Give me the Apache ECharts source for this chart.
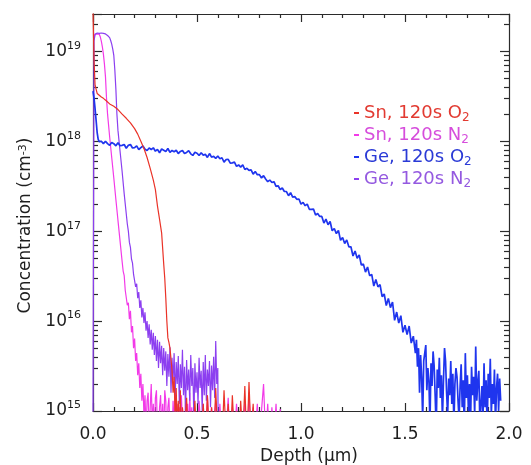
<!DOCTYPE html>
<html>
<head>
<meta charset="utf-8">
<script src="https://cdn.jsdelivr.net/npm/echarts@6/dist/echarts.min.js"></script>
<style>
  html, body { margin: 0; padding: 0; background: #fff; }
  #chart { width: 531px; height: 465px; }
</style>
</head>
<body>
<div id="chart"></div>
<script>
// SIMS depth profiles: [depth (µm), concentration (cm^-3)]
const seriesNames = ['Sn, 120s O2', 'Sn, 120s N2', 'Ge, 120s O2', 'Ge, 120s N2'];
const seriesColors = ['#ea3328', '#f23ae8', '#1f35ee', '#8c3ff0'];
const legendColors = ['#e23a31', '#d64ddc', '#2a3ad6', '#9459e0'];

const xTickLabels = ['0.0', '0.5', '1.0', '1.5', '2.0'];
const yDecades = [15, 16, 17, 18, 19];
const yMinorMantissas = [2, 3, 4, 5, 6, 7, 8, 9];
const depthMin = 0, depthMax = 2, depthStep = 0.5;
const concMin = 1e15, concMax = 2.6e19;

const snO2 = [
  [0, 2.8e19], [0.005, 7.9e18], [0.01, 4.2e18], [0.02, 3.4e18], [0.03, 3.25e18], [0.04, 3.1e18],
  [0.05, 3.0e18], [0.065, 2.8e18], [0.08, 2.6e18], [0.10, 2.45e18], [0.12, 2.25e18], [0.14, 2.0e18],
  [0.16, 1.8e18], [0.18, 1.6e18], [0.20, 1.38e18], [0.215, 1.2e18], [0.23, 1.0e18], [0.245, 8.3e17],
  [0.26, 6.6e17], [0.275, 5.0e17], [0.29, 3.7e17], [0.30, 2.9e17], [0.31, 1.9e17], [0.32, 1.35e17],
  [0.33, 9.5e16], [0.34, 4.3e16], [0.345, 3.0e16], [0.35, 1.8e16], [0.355, 1.0e16], [0.36, 6.5e15],
  [0.365, 5.8e15], [0.37, 5.0e15], [0.375, 3.8e15], [0.38, 2.8e15], [0.385, 1.6e15], [0.39, 2.4e15],
  [0.395, 8e14], [0.40, 1.8e15], [0.405, 6e14], [0.41, 1.3e15], [0.415, 5e14], [0.42, 1.7e15],
  [0.425, 4e14], [0.43, 1.1e15], [0.44, 6e14], [0.45, 1.4e15], [0.46, 4e14], [0.47, 1.0e15],
  [0.48, 5e14], [0.49, 1.3e15], [0.50, 4e14], [0.51, 1.0e15], [0.52, 5e14], [0.53, 1.2e15],
  [0.54, 4e14], [0.55, 1.5e15], [0.56, 5e14], [0.57, 1.1e15], [0.58, 4e14], [0.59, 1.8e15],
  [0.60, 5e14], [0.61, 1.0e15], [0.62, 4e14], [0.63, 1.7e15], [0.64, 5e14], [0.65, 1.2e15],
  [0.66, 4e14], [0.67, 1.5e15], [0.68, 5e14], [0.69, 1.0e15], [0.70, 4e14], [0.71, 1.3e15],
  [0.72, 5e14], [0.73, 1.9e15], [0.74, 4e14], [0.75, 2.1e15], [0.76, 5e14], [0.77, 1.2e15], [0.78, 4e14]
];

const snN2 = [
  [0.005, 1.4e19], [0.01, 1.55e19], [0.02, 1.56e19], [0.03, 1.55e19], [0.035, 1.45e19], [0.04, 1.3e19],
  [0.045, 1.12e19], [0.05, 9.3e18], [0.055, 7.2e18], [0.06, 5.2e18], [0.065, 3.0e18], [0.07, 2.0e18],
  [0.08, 1.12e18], [0.09, 6.6e17], [0.10, 3.9e17], [0.11, 2.25e17], [0.12, 1.32e17], [0.13, 7.8e16],
  [0.14, 4.6e16], [0.145, 3.6e16], [0.15, 3.2e16], [0.155, 2.2e16], [0.16, 2.3e16], [0.165, 1.5e16],
  [0.17, 1.6e16], [0.175, 1.05e16], [0.18, 1.3e16], [0.185, 7.5e15], [0.19, 8.8e15], [0.195, 5.0e15],
  [0.20, 6.4e15], [0.205, 3.6e15], [0.21, 4.4e15], [0.215, 2.5e15], [0.22, 3.4e15], [0.225, 1.8e15],
  [0.23, 2.6e15], [0.235, 1.3e15], [0.24, 2.0e15], [0.245, 9e14], [0.25, 1.5e15], [0.255, 6e14],
  [0.26, 1.3e15], [0.265, 1.6e15], [0.27, 5e14], [0.275, 1.1e15], [0.28, 2.0e15], [0.285, 7e14],
  [0.29, 1.2e15], [0.295, 5e14], [0.30, 1.4e15], [0.305, 1.7e15], [0.31, 6e14], [0.315, 5e14],
  [0.32, 1.1e15], [0.325, 1.5e15], [0.33, 6e14], [0.335, 1.2e15], [0.34, 5e14], [0.345, 1.7e15],
  [0.35, 1.3e15], [0.355, 4e14], [0.36, 1.1e15], [0.365, 1.4e15], [0.37, 6e14], [0.375, 1.0e15],
  [0.38, 5e14], [0.385, 1.3e15], [0.39, 7e14], [0.395, 1.6e15], [0.40, 4e14], [0.405, 1.2e15],
  [0.41, 6e14], [0.415, 1.1e15], [0.42, 5e14], [0.425, 1.5e15], [0.43, 7e14], [0.435, 1.0e15],
  [0.44, 4e14], [0.445, 1.3e15], [0.45, 6e14], [0.455, 1.2e15], [0.46, 5e14], [0.465, 1.6e15],
  [0.47, 7e14], [0.475, 1.1e15], [0.48, 4e14], [0.485, 1.4e15], [0.49, 6e14], [0.495, 1.0e15],
  [0.50, 5e14], [0.51, 1.3e15], [0.52, 6e14], [0.53, 1.2e15], [0.54, 4e14], [0.55, 1.5e15],
  [0.56, 5e14], [0.57, 1.1e15], [0.58, 6e14], [0.59, 1.3e15], [0.60, 4e14], [0.61, 1.2e15],
  [0.62, 5e14], [0.63, 1.0e15], [0.64, 6e14], [0.65, 1.4e15], [0.66, 4e14], [0.67, 1.1e15],
  [0.68, 5e14], [0.69, 1.2e15], [0.70, 6e14], [0.71, 1.0e15], [0.72, 5e14], [0.73, 1.3e15],
  [0.74, 4e14], [0.75, 1.6e15], [0.76, 5e14], [0.77, 1.1e15], [0.78, 6e14], [0.79, 1.2e15],
  [0.80, 4e14], [0.81, 1.0e15], [0.82, 2.0e15], [0.83, 5e14], [0.84, 1.2e15], [0.85, 4e14],
  [0.86, 1.1e15], [0.87, 5e14], [0.88, 1.2e15], [0.89, 4e14], [0.90, 1.05e15], [0.91, 5e14]
];

const geO2 = [
  [0, 3.6e18], [0.005, 3.0e18], [0.01, 2.3e18], [0.015, 1.7e18], [0.02, 1.25e18], [0.025, 1.05e18],
  [0.03, 9.9e17], [0.04, 1.0e18], [0.05, 9.4e17], [0.06, 1.0e18], [0.07, 9.4e17], [0.08, 9.0e17],
  [0.09, 9.7e17], [0.10, 9.4e17], [0.11, 8.9e17], [0.12, 9.6e17], [0.13, 8.9e17], [0.14, 9.0e17],
  [0.15, 9.2e17], [0.16, 8.35e17], [0.17, 9.0e17], [0.18, 9.2e17], [0.19, 8.4e17], [0.20, 8.5e17],
  [0.21, 8.9e17], [0.22, 8.05e17], [0.23, 8.5e17], [0.24, 8.85e17], [0.25, 8.15e17], [0.26, 7.9e17],
  [0.27, 8.4e17], [0.28, 8.1e17], [0.29, 8.45e17], [0.30, 7.75e17], [0.31, 8.1e17], [0.32, 7.45e17],
  [0.33, 8.2e17], [0.34, 7.95e17], [0.35, 7.7e17], [0.36, 8.3e17], [0.37, 7.5e17], [0.38, 7.9e17],
  [0.39, 7.65e17], [0.40, 7.95e17], [0.41, 7.3e17], [0.42, 7.7e17], [0.43, 7.9e17], [0.44, 7.3e17],
  [0.45, 7.5e17], [0.46, 7.85e17], [0.47, 7.25e17], [0.48, 6.95e17], [0.49, 7.55e17], [0.50, 7.35e17],
  [0.51, 6.95e17], [0.52, 7.45e17], [0.53, 7.0e17], [0.54, 7.15e17], [0.55, 6.6e17], [0.56, 7.3e17],
  [0.57, 6.65e17], [0.58, 6.8e17], [0.59, 6.45e17], [0.60, 6.85e17], [0.61, 6.4e17], [0.62, 6.55e17],
  [0.63, 5.85e17], [0.64, 6.25e17], [0.65, 6.3e17], [0.66, 5.7e17], [0.67, 5.75e17], [0.68, 5.85e17],
  [0.69, 5.25e17], [0.70, 5.45e17], [0.71, 5.15e17], [0.72, 5.45e17], [0.73, 4.85e17], [0.74, 5.0e17],
  [0.75, 4.75e17], [0.76, 4.8e17], [0.77, 4.3e17], [0.78, 4.6e17], [0.79, 4.25e17], [0.80, 4.25e17],
  [0.81, 3.9e17], [0.82, 4.15e17], [0.83, 3.8e17], [0.84, 3.55e17], [0.85, 3.7e17], [0.86, 3.48e17],
  [0.87, 3.55e17], [0.88, 3.15e17], [0.89, 3.2e17], [0.90, 2.9e17], [0.91, 3.02e17], [0.92, 2.76e17],
  [0.93, 2.76e17], [0.94, 2.48e17], [0.95, 2.68e17], [0.96, 2.39e17], [0.97, 2.42e17], [0.98, 2.26e17],
  [0.99, 2.28e17], [1.00, 2.0e17], [1.01, 2.09e17], [1.02, 1.92e17], [1.03, 2.0e17], [1.04, 1.75e17],
  [1.05, 1.75e17], [1.06, 1.76e17], [1.07, 1.51e17], [1.08, 1.57e17], [1.09, 1.46e17], [1.10, 1.46e17],
  [1.11, 1.23e17], [1.12, 1.36e17], [1.13, 1.18e17], [1.14, 1.28e17], [1.15, 1.01e17], [1.16, 1.07e17],
  [1.17, 9.4e16], [1.18, 1.02e17], [1.19, 7.9e16], [1.20, 8.5e16], [1.21, 7.3e16], [1.22, 8.0e16],
  [1.23, 6.7e16], [1.24, 6.7e16], [1.25, 5.3e16], [1.26, 6.0e16], [1.27, 5.0e16], [1.28, 5.45e16],
  [1.29, 4.2e16], [1.30, 4.3e16], [1.31, 3.5e16], [1.32, 4.0e16], [1.33, 3.2e16], [1.34, 3.3e16],
  [1.35, 2.45e16], [1.36, 2.9e16], [1.37, 2.4e16], [1.38, 2.55e16], [1.39, 1.87e16], [1.40, 2.0e16],
  [1.41, 1.49e16], [1.42, 1.78e16], [1.43, 1.41e16], [1.44, 1.63e16], [1.45, 1.02e16], [1.46, 1.26e16],
  [1.47, 9.5e15], [1.48, 1.15e16], [1.49, 7.5e15], [1.50, 9.0e15], [1.51, 7.1e15], [1.52, 8.8e15],
  [1.53, 5.7e15], [1.54, 6.8e15], [1.55, 4.4e15], [1.555, 6.2e15], [1.56, 3.1e15], [1.565, 5.0e15],
  [1.57, 1.6e15], [1.575, 4.2e15], [1.58, 2.4e15], [1.585, 8e14], [1.59, 3.6e15], [1.595, 4.4e15],
  [1.60, 5.4e15], [1.605, 1.7e15], [1.61, 3.0e15], [1.615, 2.2e15], [1.62, 7e14], [1.625, 3.4e15],
  [1.63, 1.9e15], [1.635, 4.6e15], [1.64, 3.2e15], [1.645, 1.5e15], [1.65, 6e14], [1.655, 2.9e15],
  [1.66, 1.8e15], [1.665, 3.9e15], [1.67, 1.4e15], [1.675, 2.5e15], [1.68, 8e14], [1.685, 2.2e15],
  [1.69, 5.0e15], [1.695, 3.6e15], [1.70, 1.6e15], [1.705, 9e14], [1.71, 2.3e15], [1.715, 1.5e15],
  [1.72, 3.6e15], [1.725, 1.2e15], [1.73, 2.6e15], [1.735, 7e14], [1.74, 2.0e15], [1.745, 3.0e15],
  [1.75, 2.4e15], [1.755, 1.3e15], [1.76, 8e14], [1.765, 1.9e15], [1.77, 3.3e15], [1.775, 1.1e15],
  [1.78, 2.2e15], [1.785, 6e14], [1.79, 4.4e15], [1.795, 1.4e15], [1.80, 2.5e15], [1.805, 1.0e15],
  [1.81, 2.0e15], [1.815, 7e14], [1.82, 3.1e15], [1.825, 1.5e15], [1.83, 2.4e15], [1.835, 9e14],
  [1.84, 5.2e15], [1.845, 1.3e15], [1.85, 2.1e15], [1.855, 2.8e15], [1.86, 7e14], [1.865, 1.2e15],
  [1.87, 1.9e15], [1.875, 8e14], [1.88, 3.4e15], [1.885, 1.1e15], [1.89, 2.2e15], [1.895, 6e14],
  [1.90, 2.6e15], [1.905, 1.4e15], [1.91, 3.8e15], [1.915, 9e14], [1.92, 2.0e15], [1.925, 1.2e15],
  [1.93, 2.9e15], [1.935, 7e14], [1.94, 1.8e15], [1.945, 2.6e15], [1.95, 1.0e15], [1.955, 2.3e15],
  [1.96, 1.3e15]
];

const geN2 = [
  [0, 8e14], [0.005, 1.3e19], [0.01, 1.55e19], [0.02, 1.6e19], [0.03, 1.58e19], [0.04, 1.6e19],
  [0.05, 1.58e19], [0.06, 1.56e19], [0.07, 1.5e19], [0.08, 1.42e19], [0.085, 1.32e19], [0.09, 1.2e19],
  [0.095, 1.06e19], [0.10, 9.0e18], [0.105, 6.2e18], [0.11, 3.8e18], [0.115, 2.0e18], [0.12, 1.32e18],
  [0.13, 7.8e17], [0.14, 4.6e17], [0.15, 2.6e17], [0.16, 1.55e17], [0.165, 1.2e17], [0.17, 1.0e17],
  [0.175, 7.5e16], [0.18, 6.6e16], [0.185, 4.9e16], [0.19, 4.4e16], [0.195, 3.3e16], [0.20, 3.4e16],
  [0.205, 2.4e16], [0.21, 2.6e16], [0.215, 1.8e16], [0.22, 2.1e16], [0.225, 1.4e16], [0.23, 1.7e16],
  [0.235, 1.1e16], [0.24, 1.4e16], [0.245, 9.5e15], [0.25, 1.25e16], [0.255, 7.8e15], [0.26, 1.0e16],
  [0.265, 6.5e15], [0.27, 9.2e15], [0.275, 5.5e15], [0.28, 8.0e15], [0.285, 4.8e15], [0.29, 7.4e15],
  [0.295, 4.2e15], [0.30, 6.8e15], [0.305, 3.6e15], [0.31, 6.2e15], [0.315, 3.0e15], [0.32, 5.9e15],
  [0.325, 3.4e15], [0.33, 5.3e15], [0.335, 2.5e15], [0.34, 5.0e15], [0.345, 2.8e15], [0.35, 4.6e15],
  [0.355, 1.9e15], [0.36, 4.3e15], [0.365, 2.4e15], [0.37, 5.1e15], [0.375, 1.6e15], [0.38, 3.9e15],
  [0.385, 2.2e15], [0.39, 4.4e15], [0.395, 1.4e15], [0.40, 3.5e15], [0.405, 2.0e15], [0.41, 4.1e15],
  [0.415, 1.2e15], [0.42, 3.3e15], [0.425, 1.8e15], [0.43, 4.8e15], [0.435, 1.5e15], [0.44, 3.1e15],
  [0.445, 9e14], [0.45, 3.7e15], [0.455, 1.7e15], [0.46, 2.9e15], [0.465, 1.3e15], [0.47, 4.2e15],
  [0.475, 1.9e15], [0.48, 3.0e15], [0.485, 8e14], [0.49, 3.4e15], [0.495, 1.6e15], [0.50, 2.7e15],
  [0.505, 1.2e15], [0.51, 3.9e15], [0.515, 1.8e15], [0.52, 2.8e15], [0.525, 1.0e15], [0.53, 3.5e15],
  [0.535, 1.5e15], [0.54, 4.2e15], [0.545, 1.3e15], [0.55, 2.9e15], [0.555, 1.9e15], [0.56, 3.6e15],
  [0.565, 1.1e15], [0.57, 3.2e15], [0.575, 1.7e15], [0.58, 4.0e15], [0.585, 1.4e15], [0.59, 6.0e15],
  [0.595, 2.0e15], [0.60, 3.0e15], [0.602, 5e14]
];

const FONT = 'DejaVu Sans';
const AXIS_COLOR = '#2b2b2b';
const TEXT_COLOR = '#1e1e1e';

// minor ticks of the log axis (2..9 within each decade)
const minorTickValues = [];
yDecades.forEach(function (e) {
  yMinorMantissas.forEach(function (m) {
    const v = m * Math.pow(10, e);
    if (v < concMax) minorTickValues.push([0, v]);
  });
});

function powerLabel(v) {
  const e = Math.round(Math.log10(v));
  if (Math.abs(Math.log10(v) - e) > 1e-6 || yDecades.indexOf(e) < 0) return '';
  return '{base|10}{sup|' + e + '}';
}

const chart = echarts.init(document.getElementById('chart'), null, { renderer: 'canvas' });

const dataBySeries = [snO2, snN2, geO2, geN2];
// drawing order: Sn N2, Ge N2, Ge O2, Sn O2
const drawOrder = [1, 3, 2, 0];

const option = {
  backgroundColor: '#ffffff',
  animation: false,
  textStyle: { fontFamily: FONT },
  grid: { left: 93, right: 22, top: 14, bottom: 54, outerBoundsMode: 'none' },
  legend: {
    show: true,
    orient: 'vertical',
    left: 349,
    top: 97,
    itemGap: 0,
    itemWidth: 5,
    itemHeight: 2,
    icon: 'rect',
    selectedMode: false,
    data: seriesNames.map(function (n, i) {
      return { name: n, textStyle: { color: legendColors[i] } };
    }),
    formatter: function (name) {
      return name.slice(0, -1) + '{sub|' + name.slice(-1) + '}';
    },
    textStyle: {
      fontFamily: FONT,
      fontSize: 18,
      lineHeight: 22,
      rich: {
        sub: { fontFamily: FONT, fontSize: 12, lineHeight: 12, verticalAlign: 'bottom' }
      }
    }
  },
  xAxis: [
    {
      type: 'value', position: 'bottom',
      min: depthMin, max: depthMax, interval: depthStep,
      name: 'Depth (μm)', nameLocation: 'middle', nameGap: 35,
      nameTextStyle: { fontFamily: FONT, fontSize: 17, color: TEXT_COLOR, padding: [0, 0, 0, 16] },
      axisLine: { show: true, onZero: false, lineStyle: { color: AXIS_COLOR, width: 1.2 } },
      axisTick: { show: true, inside: true, length: 8, lineStyle: { color: AXIS_COLOR, width: 1.2 } },
      minorTick: { show: true, splitNumber: 5, length: 4, lineStyle: { color: AXIS_COLOR, width: 1.2 } },
      splitLine: { show: false },
      axisLabel: {
        fontFamily: FONT, fontSize: 17, color: TEXT_COLOR, margin: 15,
        formatter: function (v) {
          const idx = Math.round((v - depthMin) / depthStep);
          return xTickLabels[idx] || '';
        }
      }
    },
    {
      type: 'value', position: 'top',
      min: depthMin, max: depthMax, interval: depthStep,
      axisLine: { show: true, onZero: false, lineStyle: { color: AXIS_COLOR, width: 1.2 } },
      axisTick: { show: true, inside: true, length: 8, lineStyle: { color: AXIS_COLOR, width: 1.2 } },
      minorTick: { show: true, splitNumber: 5, length: 4, lineStyle: { color: AXIS_COLOR, width: 1.2 } },
      splitLine: { show: false },
      axisLabel: { show: false }
    }
  ],
  yAxis: [
    {
      type: 'log', logBase: 10, position: 'left',
      min: concMin, max: concMax,
      name: 'Concentration (cm{sup|-3})', nameLocation: 'middle', nameGap: 57, nameRotate: 90,
      nameTextStyle: {
        fontFamily: FONT, fontSize: 17, color: TEXT_COLOR, padding: [0, 26, 0, 0],
        rich: { sup: { fontFamily: FONT, fontSize: 11, verticalAlign: 'top', lineHeight: 11 } }
      },
      axisLine: { show: true, onZero: false, lineStyle: { color: AXIS_COLOR, width: 1.2 } },
      axisTick: { show: true, inside: true, length: 9, lineStyle: { color: AXIS_COLOR, width: 1.2 } },
      splitLine: { show: false },
      axisLabel: {
        margin: 12, color: TEXT_COLOR, formatter: powerLabel,
        rich: {
          base: { fontFamily: FONT, fontSize: 17, lineHeight: 22, color: TEXT_COLOR },
          sup: { fontFamily: FONT, fontSize: 11, lineHeight: 11, verticalAlign: 'top', color: TEXT_COLOR }
        }
      }
    },
    {
      type: 'log', logBase: 10, position: 'right',
      min: concMin, max: concMax,
      axisLine: { show: true, onZero: false, lineStyle: { color: AXIS_COLOR, width: 1.2 } },
      axisTick: { show: true, inside: true, length: 9, lineStyle: { color: AXIS_COLOR, width: 1.2 } },
      splitLine: { show: false },
      axisLabel: { show: false }
    }
  ],
  series: drawOrder.map(function (i) {
    return {
      name: seriesNames[i],
      type: 'line',
      xAxisIndex: 0,
      yAxisIndex: 0,
      data: dataBySeries[i],
      showSymbol: false,
      symbol: 'none',
      clip: true,
      lineStyle: { color: seriesColors[i], width: i === 2 ? 1.7 : 1.2 },
      itemStyle: { color: seriesColors[i] },
      emphasis: { disabled: true },
      z: 3
    };
  }).concat([{
    type: 'custom',
    name: 'minorTicks',
    xAxisIndex: 0,
    yAxisIndex: 0,
    silent: true,
    clip: false,
    z: 1,
    data: minorTickValues,
    encode: { x: 0, y: 1 },
    renderItem: function (params, api) {
      const y = Math.round(api.coord([0, api.value(1)])[1]) + 0.5;
      const cs = params.coordSys;
      const st = { stroke: AXIS_COLOR, lineWidth: 1.2 };
      return {
        type: 'group',
        children: [
          { type: 'line', shape: { x1: cs.x, y1: y, x2: cs.x + 5, y2: y }, style: st },
          { type: 'line', shape: { x1: cs.x + cs.width - 5, y1: y, x2: cs.x + cs.width, y2: y }, style: st }
        ]
      };
    }
  }])
};

chart.setOption(option);
</script>
</body>
</html>
